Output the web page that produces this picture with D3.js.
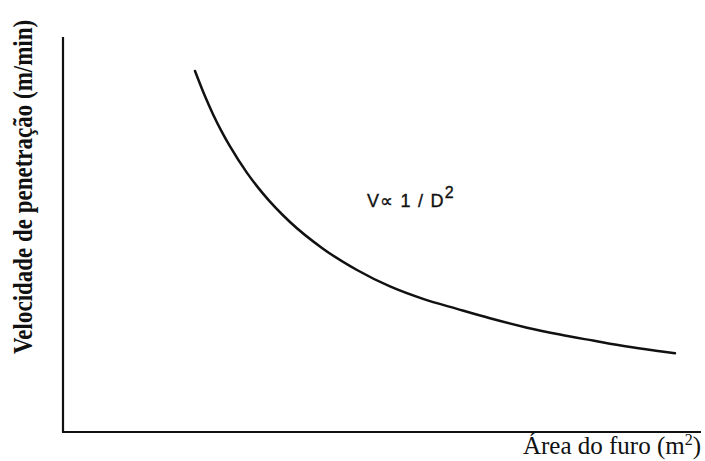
<!DOCTYPE html>
<html>
<head>
<meta charset="utf-8">
<script src="https://cdn.jsdelivr.net/npm/d3@7"></script>
<style>
  html, body { margin: 0; padding: 0; background: #fff; }
  svg { display: block; }
</style>
</head>
<body>
<script>
// Penetration rate versus hole area (schematic, arbitrary units)
const areaValues = [2.069, 2.226, 2.351, 2.492, 2.618, 2.884, 3.135, 3.558, 4.075, 4.608, 5.125, 5.643, 6.176, 6.693, 7.273, 7.790, 8.307, 8.840, 9.357, 9.592];
const speedValues = [9.139, 8.499, 8.046, 7.591, 7.228, 6.560, 6.035, 5.316, 4.641, 4.101, 3.685, 3.370, 3.116, 2.878, 2.641, 2.466, 2.314, 2.162, 2.043, 1.992];
const xTitle = "Área do furo (m";
const yTitle = "Velocidade de penetração (m/min)";

const W = 705, H = 461;
const svg = d3.select("body").append("svg").attr("width", W).attr("height", H);

const x = d3.scaleLinear().domain([0, 10]).range([63, 701]);
const y = d3.scaleLinear().domain([0, 10]).range([432, 37]);

// axes drawn as plain lines, no ticks
svg.append("line")
  .attr("x1", x(0)).attr("x2", x(0)).attr("y1", y(10)).attr("y2", y(0))
  .attr("stroke", "#111").attr("stroke-width", 2.2);
svg.append("line")
  .attr("x1", x(0) - 1).attr("x2", x(10)).attr("y1", y(0)).attr("y2", y(0))
  .attr("stroke", "#111").attr("stroke-width", 2.2);

const pts = areaValues.map((a, i) => [a, speedValues[i]]);
const line = d3.line().x(d => x(d[0])).y(d => y(d[1])).curve(d3.curveMonotoneX);
svg.append("path").datum(pts)
  .attr("d", line)
  .attr("fill", "none").attr("stroke", "#111").attr("stroke-width", 2.5)
  .attr("stroke-linecap", "round");

// relation label
const rel = svg.append("text")
  .attr("x", 367).attr("y", 207)
  .attr("font-family", "Liberation Sans, Arial, sans-serif")
  .attr("font-size", 18).attr("letter-spacing", 1.2)
  .attr("fill", "#111").attr("stroke", "#111").attr("stroke-width", 0.35);
rel.append("tspan").text("V\u221D 1 / D");
rel.append("tspan").attr("dy", -9).attr("font-size", 16).text("2");

// x title
const xt = svg.append("text")
  .attr("x", 701).attr("y", 454).attr("text-anchor", "end")
  .attr("font-family", "Liberation Serif, Times New Roman, serif")
  .attr("font-size", 25).attr("fill", "#111");
xt.append("tspan").text(xTitle);
xt.append("tspan").attr("dy", -9).attr("font-size", 16).text("2");
xt.append("tspan").attr("dy", 9).text(")");

// y title
svg.append("text")
  .attr("transform", "translate(32,187) rotate(-90) scale(1,1.15)")
  .attr("text-anchor", "middle")
  .attr("font-family", "Liberation Serif, Times New Roman, serif")
  .attr("font-weight", "bold")
  .attr("font-size", 23).attr("fill", "#111")
  .text(yTitle);
</script>
</body>
</html>
